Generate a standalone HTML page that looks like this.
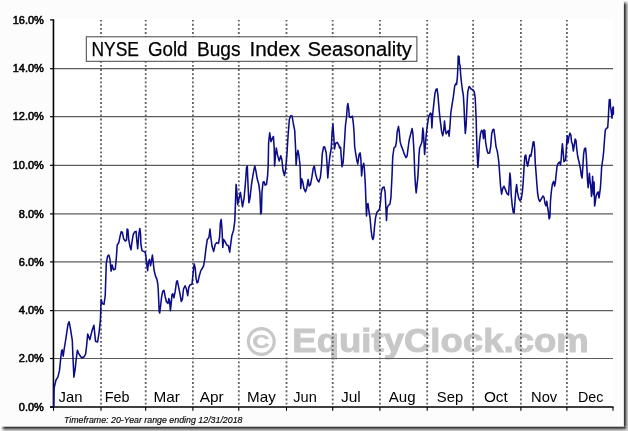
<!DOCTYPE html>
<html><head><meta charset="utf-8"><title>NYSE Gold Bugs Index Seasonality</title>
<style>html,body{margin:0;padding:0;background:#fff;}body{width:628px;height:431px;overflow:hidden;position:relative;font-family:"Liberation Sans",sans-serif;}</style></head>
<body>
<svg width="628" height="431" viewBox="0 0 628 431" style="position:absolute;left:0;top:0;will-change:transform">
<defs><linearGradient id="sr" x1="0" x2="1" y1="0" y2="0"><stop offset="0" stop-color="#343434"/><stop offset="0.2" stop-color="#3c3c3c"/><stop offset="0.5" stop-color="#7c7c7c"/><stop offset="0.8" stop-color="#bcbcbc"/><stop offset="1" stop-color="#cacaca"/></linearGradient><linearGradient id="sb" x1="0" x2="0" y1="0" y2="1"><stop offset="0" stop-color="#343434"/><stop offset="0.2" stop-color="#3c3c3c"/><stop offset="0.5" stop-color="#7c7c7c"/><stop offset="0.8" stop-color="#bcbcbc"/><stop offset="1" stop-color="#cacaca"/></linearGradient><radialGradient id="sc" gradientUnits="userSpaceOnUse" cx="623.9" cy="426.7" r="4.2"><stop offset="0" stop-color="#343434"/><stop offset="0.2" stop-color="#3c3c3c"/><stop offset="0.5" stop-color="#7c7c7c"/><stop offset="0.8" stop-color="#bcbcbc"/><stop offset="1" stop-color="#cacaca"/></radialGradient><linearGradient id="fv" gradientUnits="userSpaceOnUse" x1="0" x2="0" y1="0.8" y2="4.8"><stop offset="0" stop-color="#000"/><stop offset="1" stop-color="#fff"/></linearGradient><linearGradient id="fh" gradientUnits="userSpaceOnUse" x1="0.8" x2="4.8" y1="0" y2="0"><stop offset="0" stop-color="#000"/><stop offset="1" stop-color="#fff"/></linearGradient><mask id="mv" maskUnits="userSpaceOnUse" x="0" y="0" width="628" height="431"><rect x="0" y="0" width="628" height="431" fill="url(#fv)"/></mask><mask id="mh" maskUnits="userSpaceOnUse" x="0" y="0" width="628" height="431"><rect x="0" y="0" width="628" height="431" fill="url(#fh)"/></mask></defs>
<rect x="0" y="0" width="628" height="431" fill="#fcfcfc"/>
<rect x="53.5" y="19.2" width="560.2" height="388" fill="#ffffff"/>
<rect x="623.9" y="0" width="4.2" height="426.7" fill="url(#sr)" mask="url(#mv)"/>
<rect x="0" y="426.7" width="623.9" height="4.4" fill="url(#sb)" mask="url(#mh)"/>
<rect x="623.9" y="426.7" width="4.2" height="4.4" fill="url(#sc)"/>
<circle cx="261.3" cy="341.5" r="12.9" fill="none" stroke="#c8c8c8" stroke-width="3.2"/>
<text x="252.6" y="348.2" font-family="Liberation Sans, sans-serif" font-weight="bold" font-size="19" fill="#c8c8c8" stroke="#c8c8c8" stroke-width="0.5" textLength="17" lengthAdjust="spacingAndGlyphs">C</text>
<text x="292.3" y="352.4" font-family="Liberation Sans, sans-serif" font-weight="bold" font-size="32.5" fill="#c8c8c8" stroke="#c8c8c8" stroke-width="0.9" textLength="296.5" lengthAdjust="spacingAndGlyphs">EquityClock.com</text>
<line x1="53.5" x2="613" y1="68.7" y2="68.7" stroke="#5c5c5c" stroke-width="1.2"/>
<line x1="53.5" x2="613" y1="116.7" y2="116.7" stroke="#5c5c5c" stroke-width="1.2"/>
<line x1="53.5" x2="613" y1="165.3" y2="165.3" stroke="#5c5c5c" stroke-width="1.2"/>
<line x1="53.5" x2="613" y1="213.9" y2="213.9" stroke="#5c5c5c" stroke-width="1.2"/>
<line x1="53.5" x2="613" y1="261.9" y2="261.9" stroke="#5c5c5c" stroke-width="1.2"/>
<line x1="53.5" x2="613" y1="310.6" y2="310.6" stroke="#5c5c5c" stroke-width="1.2"/>
<line x1="53.5" x2="613" y1="358.5" y2="358.5" stroke="#5c5c5c" stroke-width="1.2"/>
<line x1="101.0" x2="101.0" y1="20" y2="406" stroke="#606060" stroke-width="1.8" stroke-dasharray="1.85 2.268" stroke-dashoffset="0.3"/>
<line x1="145.7" x2="145.7" y1="20" y2="406" stroke="#606060" stroke-width="1.8" stroke-dasharray="1.85 2.268" stroke-dashoffset="0.3"/>
<line x1="192.9" x2="192.9" y1="20" y2="406" stroke="#606060" stroke-width="1.8" stroke-dasharray="1.85 2.268" stroke-dashoffset="0.3"/>
<line x1="238.8" x2="238.8" y1="20" y2="406" stroke="#606060" stroke-width="1.8" stroke-dasharray="1.85 2.268" stroke-dashoffset="0.3"/>
<line x1="286.5" x2="286.5" y1="20" y2="406" stroke="#606060" stroke-width="1.8" stroke-dasharray="1.85 2.268" stroke-dashoffset="0.3"/>
<line x1="332.7" x2="332.7" y1="20" y2="406" stroke="#606060" stroke-width="1.8" stroke-dasharray="1.85 2.268" stroke-dashoffset="0.3"/>
<line x1="379.9" x2="379.9" y1="20" y2="406" stroke="#606060" stroke-width="1.8" stroke-dasharray="1.85 2.268" stroke-dashoffset="0.3"/>
<line x1="427.2" x2="427.2" y1="20" y2="406" stroke="#606060" stroke-width="1.8" stroke-dasharray="1.85 2.268" stroke-dashoffset="0.3"/>
<line x1="473.1" x2="473.1" y1="20" y2="406" stroke="#606060" stroke-width="1.8" stroke-dasharray="1.85 2.268" stroke-dashoffset="0.3"/>
<line x1="520.9" x2="520.9" y1="20" y2="406" stroke="#606060" stroke-width="1.8" stroke-dasharray="1.85 2.268" stroke-dashoffset="0.3"/>
<line x1="566.9" x2="566.9" y1="20" y2="406" stroke="#606060" stroke-width="1.8" stroke-dasharray="1.85 2.268" stroke-dashoffset="0.3"/>
<rect x="86.3" y="36.8" width="330.6" height="24.5" fill="#fff" fill-opacity="0.93" stroke="#444" stroke-width="1"/>
<line x1="53.45" x2="53.45" y1="19.3" y2="407.6" stroke="#000" stroke-width="1.6"/>
<line x1="50" x2="613.5" y1="407" y2="407" stroke="#000" stroke-width="1.4"/>
<line x1="50" x2="53.5" y1="19.9" y2="19.9" stroke="#000" stroke-width="1.2"/>
<line x1="50" x2="53.5" y1="68.7" y2="68.7" stroke="#000" stroke-width="1.2"/>
<line x1="50" x2="53.5" y1="116.7" y2="116.7" stroke="#000" stroke-width="1.2"/>
<line x1="50" x2="53.5" y1="165.3" y2="165.3" stroke="#000" stroke-width="1.2"/>
<line x1="50" x2="53.5" y1="213.9" y2="213.9" stroke="#000" stroke-width="1.2"/>
<line x1="50" x2="53.5" y1="261.9" y2="261.9" stroke="#000" stroke-width="1.2"/>
<line x1="50" x2="53.5" y1="310.6" y2="310.6" stroke="#000" stroke-width="1.2"/>
<line x1="50" x2="53.5" y1="358.5" y2="358.5" stroke="#000" stroke-width="1.2"/>
<line x1="50" x2="53.5" y1="407.0" y2="407.0" stroke="#000" stroke-width="1.2"/>
<line x1="53.5" x2="53.5" y1="407" y2="410.8" stroke="#000" stroke-width="1.1"/>
<line x1="101.0" x2="101.0" y1="407" y2="410.8" stroke="#000" stroke-width="1.1"/>
<line x1="145.7" x2="145.7" y1="407" y2="410.8" stroke="#000" stroke-width="1.1"/>
<line x1="192.9" x2="192.9" y1="407" y2="410.8" stroke="#000" stroke-width="1.1"/>
<line x1="238.8" x2="238.8" y1="407" y2="410.8" stroke="#000" stroke-width="1.1"/>
<line x1="286.5" x2="286.5" y1="407" y2="410.8" stroke="#000" stroke-width="1.1"/>
<line x1="332.7" x2="332.7" y1="407" y2="410.8" stroke="#000" stroke-width="1.1"/>
<line x1="379.9" x2="379.9" y1="407" y2="410.8" stroke="#000" stroke-width="1.1"/>
<line x1="427.2" x2="427.2" y1="407" y2="410.8" stroke="#000" stroke-width="1.1"/>
<line x1="473.1" x2="473.1" y1="407" y2="410.8" stroke="#000" stroke-width="1.1"/>
<line x1="520.9" x2="520.9" y1="407" y2="410.8" stroke="#000" stroke-width="1.1"/>
<line x1="566.9" x2="566.9" y1="407" y2="410.8" stroke="#000" stroke-width="1.1"/>
<line x1="613" x2="613" y1="407" y2="410.8" stroke="#000" stroke-width="1.1"/>
<text x="91.5" y="56.2" font-family="Liberation Sans, sans-serif" font-size="20.5" fill="#000" stroke="#000" stroke-width="0.25" textLength="47.3" lengthAdjust="spacingAndGlyphs">NYSE</text>
<text x="147.9" y="56.2" font-family="Liberation Sans, sans-serif" font-size="20.5" fill="#000" stroke="#000" stroke-width="0.25" textLength="39.6" lengthAdjust="spacingAndGlyphs">Gold</text>
<text x="196.9" y="56.2" font-family="Liberation Sans, sans-serif" font-size="20.5" fill="#000" stroke="#000" stroke-width="0.25" textLength="43.6" lengthAdjust="spacingAndGlyphs">Bugs</text>
<text x="249.6" y="56.2" font-family="Liberation Sans, sans-serif" font-size="20.5" fill="#000" stroke="#000" stroke-width="0.25" textLength="50.6" lengthAdjust="spacingAndGlyphs">Index</text>
<text x="307.4" y="56.2" font-family="Liberation Sans, sans-serif" font-size="20.5" fill="#000" stroke="#000" stroke-width="0.25" textLength="104.5" lengthAdjust="spacingAndGlyphs">Seasonality</text>
<text x="43.9" y="23.5" text-anchor="end" font-family="Liberation Sans, sans-serif" font-size="11" fill="#000" stroke="#000" stroke-width="0.55">16.0%</text>
<text x="43.9" y="72.3" text-anchor="end" font-family="Liberation Sans, sans-serif" font-size="11" fill="#000" stroke="#000" stroke-width="0.55">14.0%</text>
<text x="43.9" y="120.3" text-anchor="end" font-family="Liberation Sans, sans-serif" font-size="11" fill="#000" stroke="#000" stroke-width="0.55">12.0%</text>
<text x="43.9" y="168.9" text-anchor="end" font-family="Liberation Sans, sans-serif" font-size="11" fill="#000" stroke="#000" stroke-width="0.55">10.0%</text>
<text x="43.9" y="217.5" text-anchor="end" font-family="Liberation Sans, sans-serif" font-size="11" fill="#000" stroke="#000" stroke-width="0.55">8.0%</text>
<text x="43.9" y="265.5" text-anchor="end" font-family="Liberation Sans, sans-serif" font-size="11" fill="#000" stroke="#000" stroke-width="0.55">6.0%</text>
<text x="43.9" y="314.2" text-anchor="end" font-family="Liberation Sans, sans-serif" font-size="11" fill="#000" stroke="#000" stroke-width="0.55">4.0%</text>
<text x="43.9" y="362.1" text-anchor="end" font-family="Liberation Sans, sans-serif" font-size="11" fill="#000" stroke="#000" stroke-width="0.55">2.0%</text>
<text x="43.9" y="410.6" text-anchor="end" font-family="Liberation Sans, sans-serif" font-size="11" fill="#000" stroke="#000" stroke-width="0.55">0.0%</text>
<text x="58.6" y="401.6" font-family="Liberation Sans, sans-serif" font-size="14.6" fill="#000" textLength="23.9" lengthAdjust="spacingAndGlyphs">Jan</text>
<text x="104.8" y="401.6" font-family="Liberation Sans, sans-serif" font-size="14.6" fill="#000" textLength="24.8" lengthAdjust="spacingAndGlyphs">Feb</text>
<text x="153.5" y="401.6" font-family="Liberation Sans, sans-serif" font-size="14.6" fill="#000" textLength="26.4" lengthAdjust="spacingAndGlyphs">Mar</text>
<text x="199.7" y="401.6" font-family="Liberation Sans, sans-serif" font-size="14.6" fill="#000" textLength="23.9" lengthAdjust="spacingAndGlyphs">Apr</text>
<text x="247.1" y="401.6" font-family="Liberation Sans, sans-serif" font-size="14.6" fill="#000" textLength="28.7" lengthAdjust="spacingAndGlyphs">May</text>
<text x="293.3" y="401.6" font-family="Liberation Sans, sans-serif" font-size="14.6" fill="#000" textLength="23.5" lengthAdjust="spacingAndGlyphs">Jun</text>
<text x="341" y="401.6" font-family="Liberation Sans, sans-serif" font-size="14.6" fill="#000" textLength="19.8" lengthAdjust="spacingAndGlyphs">Jul</text>
<text x="388.8" y="401.6" font-family="Liberation Sans, sans-serif" font-size="14.6" fill="#000" textLength="26.8" lengthAdjust="spacingAndGlyphs">Aug</text>
<text x="436.8" y="401.6" font-family="Liberation Sans, sans-serif" font-size="14.6" fill="#000" textLength="26.4" lengthAdjust="spacingAndGlyphs">Sep</text>
<text x="483.9" y="401.6" font-family="Liberation Sans, sans-serif" font-size="14.6" fill="#000" textLength="23.9" lengthAdjust="spacingAndGlyphs">Oct</text>
<text x="531" y="401.6" font-family="Liberation Sans, sans-serif" font-size="14.6" fill="#000" textLength="26.2" lengthAdjust="spacingAndGlyphs">Nov</text>
<text x="577.9" y="401.6" font-family="Liberation Sans, sans-serif" font-size="14.6" fill="#000" textLength="25.4" lengthAdjust="spacingAndGlyphs">Dec</text>
<text x="64" y="423" font-family="Liberation Sans, sans-serif" font-style="italic" font-size="9" fill="#000" stroke="#000" stroke-width="0.15" textLength="178.5" lengthAdjust="spacingAndGlyphs">Timeframe: 20-Year range ending 12/31/2018</text>
<polyline points="53.8,406.4 54.1,388 56,380 57.9,377.1 59.5,370.4 60.8,357.6 61.6,350.9 62.2,349.8 63.2,356.2 64.2,349 65.8,339 68,324.4 69.1,321.7 70.4,328.4 72.3,340.4 72.9,356 73.9,377.1 75.2,368.8 76,360.8 77.4,350.2 78.4,352.8 79.6,355 81.8,358 84.4,356.5 85.6,354 86.6,346 87.7,334 89.9,339.6 92,330.8 93.9,325.2 95.5,341.2 97.6,342 99.2,331.6 100.5,318.8 101.1,299.6 102.4,303.6 104,304.4 105.2,296 105.7,281 106.3,263.4 107.6,256.2 108.9,255.1 110,259.4 111.1,271.1 112.1,265 113.5,269.8 115.3,269 116.4,257 117.2,245 118.8,242.6 120.1,236.2 121.2,231.7 122.3,232.2 123.6,238.6 125.2,241 126.5,240.2 127.1,229 127.9,229.8 128.7,239.4 130,246.6 131,249.8 131.9,242.6 133.2,234.6 134.8,231.7 136.1,231.4 136.7,239.4 137.7,248.7 138.3,241 139,233 139.9,228.5 140.6,234.6 140.9,244.2 142,250.6 143.6,251.4 145.2,252.2 146,257 146.8,265 147.6,270.6 148.4,262.6 149.5,259.4 150.5,265.8 151.6,260.2 152.4,255.1 153.2,261.8 154,269.8 155.3,275.4 156.9,279.4 157.8,284 158.3,291 158.7,300.2 159.2,311.4 159.7,313 160.5,306.6 161.6,297 162.7,291.4 164,290.3 165.1,296.2 166.4,301.8 168,303.4 168.8,298.6 169.6,301 170.4,310.6 171.2,303.4 172,294.6 172.8,293.8 173.9,297.8 175.2,291.4 176.5,281.8 177.3,280.7 178.4,285.8 180,293.8 181.3,301.5 182.4,299.4 183.5,289 185.1,285.8 186.4,289 187.7,295.7 188.8,287.4 189.9,285 192,284.2 192.8,276.2 193.6,268.2 194.2,264 195.2,268.2 196,277.8 197,282.9 197.9,282.3 199.2,276.2 200.8,270.6 202.4,268.2 203.6,265.8 204.7,259.4 206,248.2 207.3,239.4 208.9,237.8 210,229 210.8,237 212.1,246.6 213.7,251.4 215.3,244.2 216.9,242.6 218.5,243.4 219.6,237 220.4,222.6 221.2,219.4 222,229 222.8,247.4 223.6,239.4 225.2,241.8 226.8,245 228.4,245.8 229.7,252.2 230.8,243.4 231.9,235.4 233.5,230.6 234.8,221 235.4,204.4 236.1,184.4 236.7,190 237.7,204.4 238.8,199.6 240.4,192.4 241.5,199.6 242.5,206.8 244.1,198 245.5,182 246.5,167.6 247.3,166 247.9,182 248.9,202.8 250,198 251.6,183.6 253.7,170.8 254.8,166 255.9,170.8 257.2,178.8 258.8,184.4 259.9,193.2 260.7,214 261.4,212.4 262,191.6 263.1,182 264.1,181.7 265.2,185.2 266.5,184.4 267.6,175.6 268.2,165 268.6,143.2 269.7,132.8 271,141.6 272.3,138.4 273.4,136.5 274.2,148 274.6,166 275.5,155 276.3,148 277.4,154.4 279.2,161 280.8,155.8 281.9,160 283.1,170.8 284.4,175.6 285.7,169 287,152.8 288.1,135.2 289.4,119.2 290.7,115.7 292.1,116 293.4,124 294.7,130.4 295.5,146.4 296.1,165 297.1,154.4 297.9,150.4 299,156 300.1,166 300.7,188.4 301.7,178.8 302.8,182 303.9,188.4 305.5,191.9 306.8,187.6 308.1,179.6 309.2,186 310.5,184.4 311.9,177.2 313.2,168.4 314.3,166.2 315.6,174 317.2,179.6 318.8,182 320.4,177.2 321.6,165.6 322.2,154.4 323.5,147.2 324.6,146.7 326.2,152.8 326.9,162 327.8,178 328.7,167 329.9,156 331.3,148 332.1,132 332.9,124 333.7,135.2 334.5,149 335.6,143.2 337.2,142.4 338.8,145 339.6,148 340.6,147.2 341.3,157.6 342,166.8 343.2,162 344.5,141.6 345.5,125 346.5,117.6 347.3,106.4 347.9,103.5 348.7,109 349.4,117 350.8,117.4 352.4,116.2 353.4,124 354.1,133 354.7,147 355.6,152.8 356.9,160.8 357.8,164 359.1,154.4 360.1,152.8 360.9,159.2 361.6,176 362.4,168 363.7,163.2 364.3,168 365.3,184 366,203 366.5,216 367.1,204.6 368,203.6 368.9,211 370,217.4 371.1,230.2 372.1,237.4 372.9,239.5 373.7,236.9 374.5,227 375.6,217.4 376.9,212.3 378.5,210.6 379.6,209 380.4,203 381.3,192 382.4,188 384,186.9 385.1,192 385.9,208 386.5,220.5 387.2,208 388.3,205.5 389.9,204.2 390.9,198 392,176 392.5,163 392.8,156 394,148 395.6,146.4 396.4,141.6 397.2,132 398.5,126.4 399.3,132 400.1,141.6 401.2,145.6 402.8,149.6 404.4,154.4 406,157.6 407.1,156 408.1,148 409.2,140 410.8,133.6 412.1,128.5 412.9,133.6 413.5,143.2 414.2,156 414.7,172.8 415.5,185.6 416.2,192.8 416.8,187.2 417.8,177.6 418.5,166.4 418.9,156 419.6,148 421.2,144 422,141.6 422.8,128 423.4,132 424.1,144.8 424.6,154.5 425.4,145 426.3,134 427.4,125 428.8,116.2 430.4,113 431.2,113.8 431.9,128 432.7,114.3 433.9,102.8 435,93.2 436.1,89.2 437.1,88.9 437.9,94.8 438.7,104.4 439.5,113.5 440.5,122.6 441.6,131.4 442.7,135.7 443.7,130.6 444.5,121 445.3,129 446.1,133.8 447.2,132.2 448.3,130.6 449.1,136.2 450.1,124.2 450.8,113 452.1,104.4 453.4,96.4 454.7,86 455.8,83.6 456.6,84.4 457.4,77.2 457.9,66 458.2,56.1 459,56.4 459.5,64.4 460.1,65.2 460.6,74 461.4,82 462.4,90 463.3,94.8 464,106 464.6,121 465.3,133.5 466.1,125.8 466.7,112 467.2,101.2 467.8,91.6 469.1,86.5 470.2,87.6 471.3,89.2 472.9,89.7 474.2,91.6 475.2,98 475.8,110.8 476.2,120 476.5,133.8 477.1,153 477.9,167.4 478.6,157.8 479.5,141.8 480.5,133.8 481.6,130.3 482.7,131.4 483.5,138.6 484,129.8 484.8,130.6 485.6,141.8 486.9,149.8 488,153.3 489.6,153 490.7,146.6 491.7,133.8 492.8,129.8 493.9,129.3 494.9,137 496,146.6 497.3,151.4 498.2,157 498.9,163 499.7,174.2 500.5,185.4 501.6,194.2 502.7,188.6 504,186.2 505.3,189.4 506.9,193.4 508.5,195 509.3,183.8 509.9,173 510.6,179 511.2,195 512.3,206.2 513.3,212.6 514.1,212.9 514.9,203 515.7,191.8 516.6,184.6 517.4,191.8 518.7,198.2 520,200.6 521.3,199 522.4,191.8 523.2,182.2 524,168 524.8,156.5 525.8,155 526.7,162.5 527.7,166.2 528.8,160 529.9,155 530.9,156.2 532,150 533.1,142.2 533.9,141.7 534.7,149.4 535.2,162 536.2,175 536.9,184.5 537.6,193 538.6,199 539.7,201.5 541.3,199 542.9,196 544.1,197.5 545,203.5 545.9,205.7 546.8,201.3 547.5,207 548.4,212 549.1,219 549.9,217 550.5,201 551.3,192 552.4,184 553.6,181.5 554.6,186.1 555.4,182 556.2,174 557.1,166 558.2,163.2 559.5,162 560.5,165 561.2,159 561.7,151 562.4,143.8 563.2,152.6 564,161.6 565.6,160 566.4,147.8 567.2,135.8 568,143 568.8,137.4 569.9,133.1 570.9,135 571.5,141.4 572.5,144.6 573.3,151 574.1,146.2 575.2,139 576,140.6 576.8,149.4 577.8,157 579.2,162.5 580.5,169.2 581.3,175.6 582.1,178 582.9,166 583.6,154.2 584.5,148.6 585.6,148.1 586.3,156 586.9,167.6 587.5,180.4 588.2,187.6 588.8,180.4 589.4,173.2 590.1,182 590.7,185.2 591.5,196.4 592.2,186.8 592.6,176.4 593.1,188.4 593.6,194.8 594.1,182 594.6,206 595.2,202.8 596,196.4 597.1,193.2 598.1,191.9 599,198 599.7,193.2 600.5,186.8 601.1,177.2 601.6,167.6 602.4,162 603.1,157 603.7,151 604.5,139.8 605.3,130.2 606.4,128.3 607.7,127.8 608.3,119 608.8,107.8 609.3,99.8 610.1,99.5 610.6,107.8 611.2,111 612,118.2 612.8,107.8 613.3,107 613.4,114.2" fill="none" stroke="#0c0c88" stroke-width="1.55" stroke-linejoin="round" stroke-linecap="round"/>
</svg>
</body></html>
